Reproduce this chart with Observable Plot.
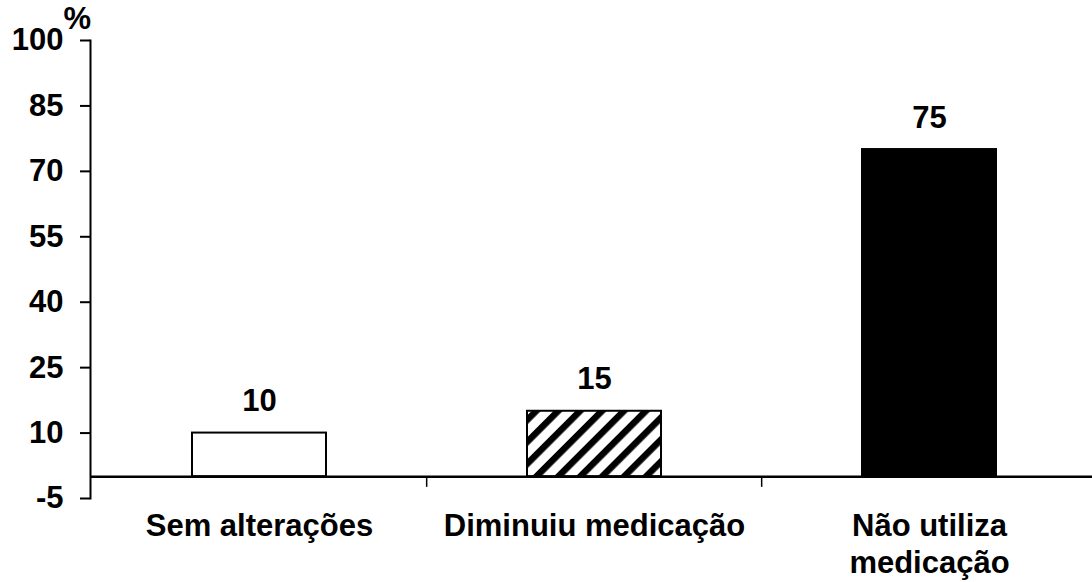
<!DOCTYPE html>
<html><head><meta charset="utf-8">
<script src="https://cdn.jsdelivr.net/npm/d3@7"></script>
<script src="https://cdn.jsdelivr.net/npm/@observablehq/plot@0.6"></script>
<style>
html,body{margin:0;padding:0;background:#fff;overflow:hidden}
#chart{position:relative;width:1092px;height:582px}
</style>
</head><body><div id="chart"></div>
<script>
const categories = ["Sem alterações", "Diminuiu medicação", "Não utiliza\nmedicação"];
const values = [10, 15, 75];
const yTicks = [-5, 10, 25, 40, 55, 70, 85, 100];
const unitLabel = "%";

const data = categories.map((c, i) => ({category: c, value: values[i]}));

const xOpts = {domain: categories, range: [90, 1097], paddingInner: 0.6, paddingOuter: 0.3, align: 0.5};
const xs = Plot.scale({x: {type: "band", ...xOpts}});
const step = xs.step;

const chart = Plot.plot({
  width: 1092,
  height: 582,
  marginLeft: 90,
  marginRight: -5,
  marginTop: 40,
  marginBottom: 84,
  style: {fontFamily: "'Liberation Sans', Arial, sans-serif", fontSize: "31px", fontWeight: "bold", color: "black", background: "white"},
  x: {type: "band", ...xOpts, label: null},
  y: {domain: [-5, 100], label: null},
  color: {type: "ordinal", domain: categories, range: ["white", "url(#hatch)", "black"]},
  marks: [
    Plot.barY(data, {x: "category", y1: 0, y2: "value", fill: "category", stroke: "black", strokeWidth: 2}),
    Plot.ruleY([0], {stroke: "black", strokeWidth: 2.5}),
    Plot.ruleX(categories.slice(1), {x: d => d, dx: -step / 2, y1: 0, y2: -2.45, stroke: "black", strokeWidth: 1.5}),
    Plot.frame({anchor: "left", stroke: "black", strokeWidth: 2}),
    Plot.axisY({ticks: yTicks, tickSize: 10, tickPadding: 17, strokeWidth: 2, label: null, tickFormat: d => String(d)}),
    Plot.axisX({tickSize: 0, tickPadding: 12, label: null, lineHeight: 1.17}),
    Plot.text(data, {x: "category", y: "value", text: d => String(d.value), lineAnchor: "bottom", dy: -22, fill: "black"}),
    Plot.text([unitLabel], {frameAnchor: "top-left", textAnchor: "start", lineAnchor: "top", dx: -27, dy: -34, fontSize: 31, fill: "black"})
  ]
});

const ns = "http://www.w3.org/2000/svg";
const svg = chart.tagName.toLowerCase() === "svg" ? chart : chart.querySelector("svg");
const defs = document.createElementNS(ns, "defs");
const pat = document.createElementNS(ns, "pattern");
pat.setAttribute("id", "hatch");
pat.setAttribute("patternUnits", "userSpaceOnUse");
pat.setAttribute("width", "15.5");
pat.setAttribute("height", "15.5");
pat.setAttribute("patternTransform", "rotate(45)");
const bg = document.createElementNS(ns, "rect");
bg.setAttribute("width", "15.5"); bg.setAttribute("height", "15.5"); bg.setAttribute("fill", "white");
const st = document.createElementNS(ns, "rect");
st.setAttribute("width", "6.5"); st.setAttribute("height", "15.5"); st.setAttribute("fill", "black");
pat.appendChild(bg); pat.appendChild(st);
defs.appendChild(pat);
svg.insertBefore(defs, svg.firstChild);

document.getElementById("chart").appendChild(chart);
</script>
</body></html>
